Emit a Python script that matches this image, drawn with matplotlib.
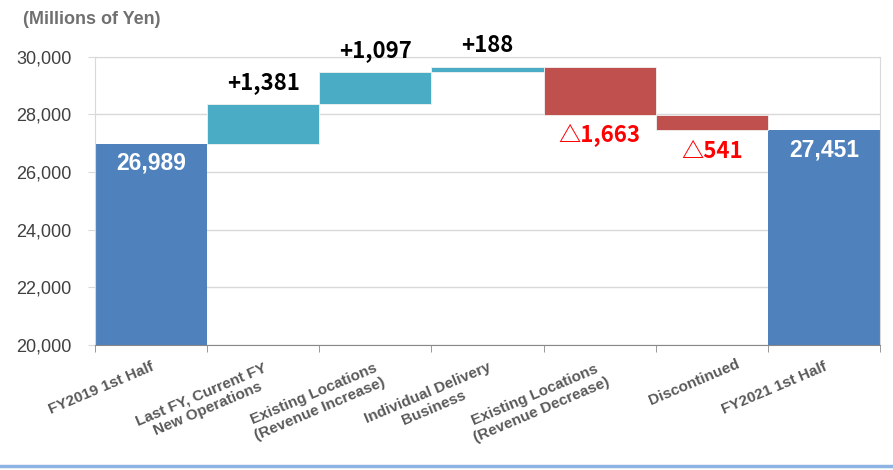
import matplotlib.pyplot as plt
import matplotlib as mpl
import matplotlib.transforms as mtransforms
from matplotlib.lines import Line2D
import numpy as np

mpl.rcParams['font.family'] = ['Liberation Sans', 'DejaVu Sans']

# waterfall data (millions of yen)
categories = ['FY2019 1st Half', 'Last FY, Current FY\nNew Operations',
              'Existing Locations\n(Revenue Increase)', 'Individual Delivery\nBusiness',
              'Existing Locations\n(Revenue Decrease)', 'Discontinued', 'FY2021 1st Half']
start_total = 26989
changes = [1381, 1097, 188, -1663, -541]
end_total = 27451
y_ticks = [20000, 22000, 24000, 26000, 28000, 30000]

c_total = '#4F81BD'
c_up = '#4BACC6'
c_down = '#C0504D'
num_font = ['Noto Sans CJK JP', 'DejaVu Sans']

fig = plt.figure(figsize=(8.93, 4.70), dpi=100)
ax = fig.add_axes([0.1064, 0.266, 0.879, 0.613])

x = np.arange(len(categories))
ymin = y_ticks[0]

# totals
ax.bar(x[0], start_total - ymin, bottom=ymin, width=1.0, color=c_total)
ax.bar(x[-1], end_total - ymin, bottom=ymin, width=1.0, color=c_total)
for xi, v in ((x[0], start_total), (x[-1], end_total)):
    ax.annotate(f'{v:,}', (xi, v), xytext=(0, -6), textcoords='offset points',
                ha='center', va='top', color='white', fontsize=16.5,
                fontweight='bold')

# step bars
level = start_total
for i, d in enumerate(changes):
    xi = x[i + 1]
    low = level + min(d, 0)
    ax.bar(xi, abs(d), bottom=low, width=1.0,
           color=c_up if d > 0 else c_down, edgecolor='#F2F2F2', linewidth=0.6)
    if d > 0:
        ax.annotate(f'+{d:,}', (xi, level + d), xytext=(0, 7), textcoords='offset points',
                    ha='center', va='bottom', color='black', fontsize=16,
                    fontweight='bold', family=num_font)
    else:
        ax.annotate(f'△{-d:,}', (xi, low), xytext=(0, -7), textcoords='offset points',
                    ha='center', va='top', color='#FF0000', fontsize=16,
                    fontweight='bold', family=num_font)
    level += d

ax.set_xlim(-0.5, len(categories) - 0.5)
ax.set_ylim(y_ticks[0], y_ticks[-1])
ax.set_yticks(y_ticks)
ax.set_yticklabels([f'{t:,}' for t in y_ticks], fontsize=13, color='#404040')
ax.yaxis.grid(True, color='#D9D9D9', linewidth=1)
ax.set_axisbelow(True)
ax.tick_params(axis='y', length=5, color='#D9D9D9', pad=12)

# category labels, ticks at boundaries
ax.set_xticks(x)
ax.set_xticklabels(categories, rotation=23, ha='right', va='top',
                   rotation_mode='anchor', multialignment='center',
                   fontsize=11, fontweight='bold', color='#595959')
ax.tick_params(axis='x', which='major', length=0, pad=11)
ax.set_xticks(np.arange(len(categories) + 1) - 0.5, minor=True)
ax.tick_params(axis='x', which='minor', length=5, color='#888888')

# nudge the single-word label to the right
lbl = ax.get_xticklabels()[5]
lbl.set_transform(lbl.get_transform() +
                  mtransforms.ScaledTranslation(0.24, 0.03, fig.dpi_scale_trans))

for s in ('top', 'right', 'left'):
    ax.spines[s].set_color('#D9D9D9')
ax.spines['bottom'].set_color('#888888')

fig.text(23 / 893, 1 - 20 / 470, '(Millions of Yen)', fontsize=13, fontweight='bold',
         color='#707070', va='center', ha='left')

fig.add_artist(Line2D([0, 1], [1 - 466 / 470] * 2, color='#8DB4E2', linewidth=2.5,
                      transform=fig.transFigure))

fig.savefig('out.png', dpi=100)
